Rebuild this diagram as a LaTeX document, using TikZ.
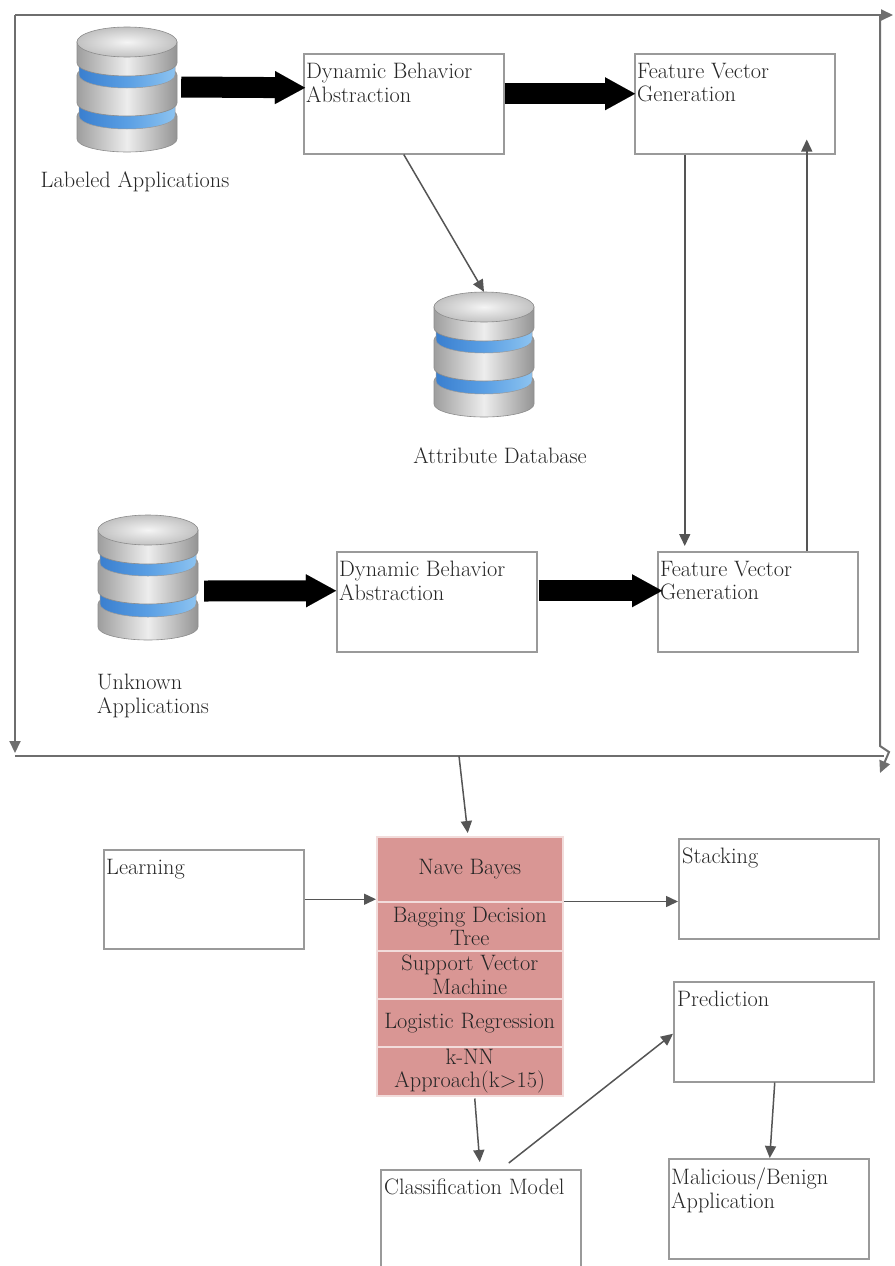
\documentclass[tikz,border=0pt]{standalone}
\usepackage{fontspec}
\usetikzlibrary{arrows.meta,calc}
\definecolor{txt}{HTML}{262626}
\definecolor{boxline}{HTML}{9A9A9A}
\definecolor{conncol}{HTML}{555555}
\definecolor{framecol}{HTML}{6E6E6E}
\definecolor{pinkfill}{HTML}{D99694}
\definecolor{pinkline}{HTML}{F2DCDB}
\definecolor{blueL}{HTML}{3A7FCF}
\definecolor{blueM}{HTML}{5A9FE4}
\definecolor{blueR}{HTML}{8CC3F0}
\newcommand\dgfont{\rmfamily\fontsize{22.3}{23.5}\selectfont}
\newcommand\dbSeg[4]{\path[#4] (-#3,#1) -- (-#3,#2) arc[start angle=180,end angle=360,x radius=#3,y radius=13] -- (#3,#1) arc[start angle=0,end angle=180,x radius=#3,y radius=13] -- cycle;}
\begin{document}
\begin{tikzpicture}[x=1pt,y=-1pt,
  procbox/.style={draw=boxline, line width=1.5pt, fill=white, rectangle, minimum width=200pt, minimum height=100pt, anchor=north west, inner sep=0pt},
  boxtext/.style={anchor=north west, inner sep=0pt, align=left, font=\dgfont, text=txt},
  cell/.style={rectangle, fill=pinkfill, draw=pinkline, line width=1.5pt, minimum width=186pt, anchor=north west, inner sep=0pt, align=center, font=\dgfont, text=txt},
  dbnode/.style={rectangle, minimum width=100pt, minimum height=125pt, inner sep=0pt},
  lbl/.style={inner sep=0pt, font=\dgfont, text=txt, align=left},
  conn/.style={draw=conncol, line width=1.5pt, -{Triangle[length=12pt,width=11pt]}},
  framel/.style={draw=framecol, line width=2pt},
  framearr/.style={framel, -{Triangle[length=12pt,width=11pt]}},
  bigarrow/.style={draw=black, line width=21pt, -{Triangle[length=30pt,width=33pt,line width=0.01pt]}},
  gseg/.style={left color=black!38, right color=black!42, middle color=black!7, draw=black!45, line width=0.6pt},
  bseg/.style={left color=blueL, right color=blueR, middle color=blueM, draw=black!40, line width=0.5pt},
  dbpic/.pic={
    \begin{scope}[y=1pt]
      \dbSeg{-89}{-112}{50}{gseg}
      \dbSeg{-76}{-89}{48}{bseg}
      \dbSeg{-48}{-76}{50}{gseg}
      \dbSeg{-36}{-48}{48}{bseg}
      \dbSeg{-15}{-36}{50}{gseg}
      \path[inner color=black!4, outer color=black!24, draw=black!45, line width=0.6pt] (0,-15) ellipse[x radius=50, y radius=15];
    \end{scope}
  }
]
\useasboundingbox (0,0) rectangle (894,1266);
\fill[white] (0,0) rectangle (894,1266);

% frame
\coordinate (fTL) at (15,15);
\coordinate (fTR) at (893,15);
\coordinate (fLB) at (15,753);
\coordinate (fBL) at (15,756);
\coordinate (fBR) at (884,756);
\coordinate (fBM) at (459,756);
\coordinate (fRT) at (880,15);
\coordinate (fRB) at (880,746);
\coordinate (fRJ) at (889,752);
\coordinate (fRE) at (880,773);
\draw[framearr] (fTL) -- (fTR);
\draw[framearr] (fTL) -- (fLB);
\draw[framel] (fBL) -- (fBR);
\draw[framearr] (fRT) -- (fRB) -- (fRJ) -- (fRE);

% databases
\pic at (127,27) {dbpic};
\node[dbnode] (labDB) at (127,89.5) {};
\pic at (484,292) {dbpic};
\node[dbnode] (attrDB) at (484,354.5) {};
\pic at (148,515) {dbpic};
\node[dbnode] (unkDB) at (148,577.5) {};
\node[lbl, anchor=base] (labT) at (135,187) {Labeled Applications};
\node[lbl, anchor=base] (attrT) at (500,463) {Attribute Database};
\node[lbl, anchor=north west] (unkT) at (97,674) {Unknown\\Applications};

% process boxes
\node[procbox] (dbaT) at (303,53) {};
\node[procbox] (fvgT) at (634,53) {};
\node[procbox] (dbaB) at (336,551) {};
\node[procbox] (fvgB) at (657,551) {};
\node[procbox, minimum height=99pt] (learn) at (103,849) {};
\node[procbox] (stack) at (678,838) {};
\node[procbox] (pred) at (673,981) {};
\node[procbox] (mal) at (668,1158) {};
\node[procbox] (cls) at (380,1169) {};

\node[boxtext] (dbaTt) at ([xshift=3pt,yshift=-10pt]dbaT.north west) {Dynamic Behavior\\Abstraction};
\node[boxtext] (fvgTt) at ([xshift=3pt,yshift=-10pt]fvgT.north west) {Feature Vector\\Generation};
\node[boxtext] (dbaBt) at ([xshift=3pt,yshift=-10pt]dbaB.north west) {Dynamic Behavior\\Abstraction};
\node[boxtext] (fvgBt) at ([xshift=3pt,yshift=-10pt]fvgB.north west) {Feature Vector\\Generation};
\node[boxtext] (learnt) at ([xshift=3pt,yshift=-10pt]learn.north west) {Learning};
\node[boxtext] (stackt) at ([xshift=4pt,yshift=-10pt]stack.north west) {Stacking};
\node[boxtext] (predt) at ([xshift=4pt,yshift=-10pt]pred.north west) {Prediction};
\node[boxtext] (malt) at ([xshift=3pt,yshift=-10pt]mal.north west) {Malicious/Benign\\Application};
\node[boxtext] (clst) at ([xshift=4pt,yshift=-10pt]cls.north west) {Classification Model};

% classifier stack
\node[cell, minimum height=65pt] (nb) at (376,836) {Nave Bayes};
\node[cell, minimum height=49pt] (bag) at (376,901) {Bagging Decision\\Tree};
\node[cell, minimum height=48pt] (svm) at (376,950) {Support Vector\\Machine};
\node[cell, minimum height=48pt] (lr) at (376,998) {Logistic Regression};
\node[cell, minimum height=49pt] (knn) at (376,1046) {k-NN\\Approach(k>15)};

% thick arrows
\draw[bigarrow] ([xshift=4pt,yshift=2.5pt]labDB.east) -- ([xshift=2pt,yshift=16pt]dbaT.west);
\draw[bigarrow] ([yshift=10pt]dbaT.east) -- ([xshift=1pt,yshift=10pt]fvgT.west);
\draw[bigarrow] ([xshift=6pt,yshift=-13.5pt]unkDB.east) -- ([yshift=11pt]dbaB.west);
\draw[bigarrow] ([xshift=1pt,yshift=11pt]dbaB.east) -- ([xshift=5pt,yshift=11pt]fvgB.west);

% thin connectors
\draw[conn] (dbaT.south) -- (attrDB.north);
\draw[conn] ($(fvgT.south)+(-50,0)$) -- ($(fvgT.south |- fvgB.north)+(-50,-5)$);
\draw[conn] ($(fvgB.north)+(49,0)$) -- ($(fvgB.north |- fvgT.south)+(49,-15)$);
\draw[conn] (fBM) -- ($(nb.north)+(-2,-3)$);
\draw[conn] (learn.east) -- (learn.east -| nb.west);
\draw[conn] ($(nb.south east)+(0,-1)$) -- ($(nb.south east -| stack.west)+(0,-1)$);
\draw[conn] ($(knn.south)+(5,2)$) -- ($(cls.north)+(-1,-7)$);
\draw[conn] ($(cls.north)+(28,-6)$) -- ($(pred.west)+(0,2)$);
\draw[conn] ($(pred.south)+(1,0)$) -- ($(mal.north)+(1,0)$);
\end{tikzpicture}
\end{document}
